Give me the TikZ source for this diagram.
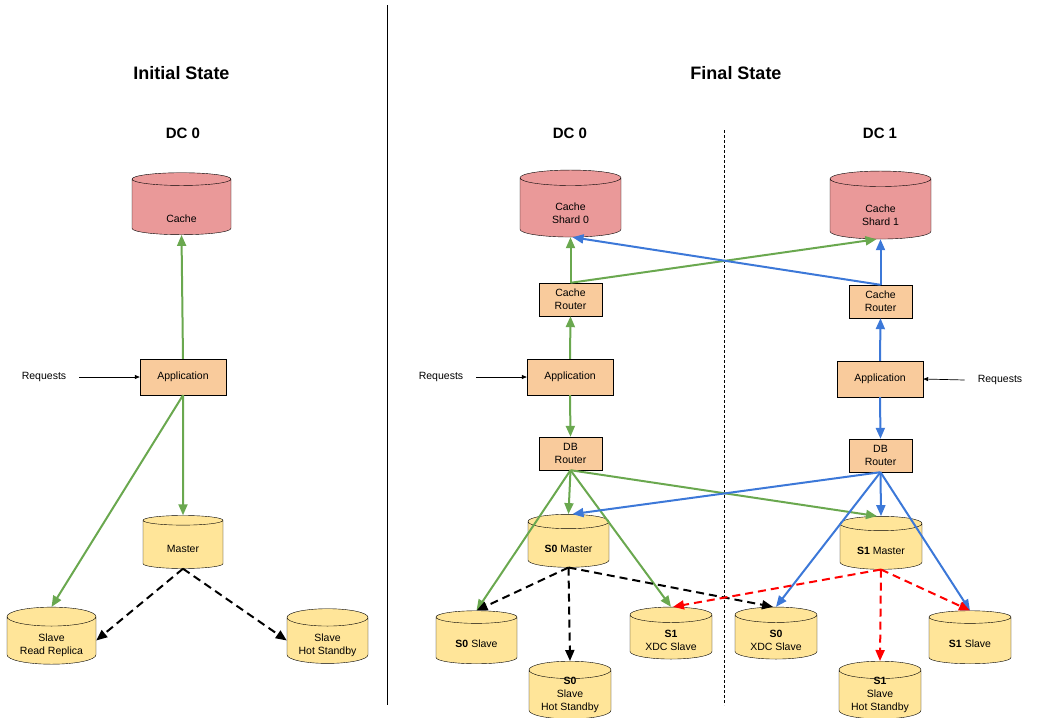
\documentclass[tikz,border=0pt]{standalone}
\usepackage{fontspec}
\setmainfont{Liberation Sans}
\usetikzlibrary{shapes.geometric,arrows.meta}

\definecolor{cachered}{HTML}{EA9999}
\definecolor{boxorange}{HTML}{F9CB9C}
\definecolor{dbyellow}{HTML}{FFE599}
\definecolor{dczero}{HTML}{6AA84F}
\definecolor{dcone}{HTML}{3C78D8}
\definecolor{replred}{HTML}{FF0000}

\tikzset{
  label font/.style={font=\fontsize{10.5}{13}\selectfont},
  box/.style={draw, fill=boxorange, label font, align=center, inner sep=0pt,
    minimum width=63pt, minimum height=33pt},
  appbox/.style={box, minimum width=86pt, minimum height=36pt},
  % text height sets how far the text sits below the middle of the drum
  db/.style={cylinder, shape border rotate=90, aspect=0.3, draw, fill=dbyellow,
    label font, align=center, inner sep=0pt, text height=15pt, text depth=0pt,
    minimum width=81pt, minimum height=53pt},
  twoline/.style={text height=28.5pt},
  threeline/.style={text height=31.5pt, text depth=-10pt},
  cachedb/.style={db, fill=cachered, aspect=0.42, minimum width=100pt, minimum height=65pt},
  reqtext/.style={label font, inner xsep=13pt},
  flow/.style={line width=2pt, -{Triangle[length=11pt,width=9pt]}},
  repl/.style={flow, dash pattern=on 8pt off 5pt},
  reqarrow/.style={line width=0.7pt, -{Triangle[length=5pt,width=4pt]}},
  title/.style={font=\bfseries\fontsize{18}{22}\selectfont},
  dclabel/.style={font=\bfseries\fontsize{15}{18}\selectfont},
}

\begin{document}
\begin{tikzpicture}[x=1pt, y=-1pt]
  % Define parameters
  \def\xl{183}   % column of initial state
  \def\xa{570}   % column of DC 0
  \def\xb{880}   % column of DC 1

  \useasboundingbox (0,0) rectangle (1045,718);

  % Separators
  \draw[line width=0.8pt] (387,5) -- (387,705);
  \draw[line width=0.5pt, dash pattern=on 3pt off 2pt] (724,130) -- (724,705);

  % Titles
  \node[title] at (181.5,73) {Initial State};
  \node[title] at (736,73) {Final State};
  \node[dclabel] at (\xl,133) {DC 0};
  \node[dclabel] at (\xa,133) {DC 0};
  \node[dclabel] at (\xb,133) {DC 1};

  % Initial state
  \node[cachedb, minimum width=99pt, minimum height=62pt, text height=31.5pt] (cacheL) at (181.5,207) {Cache};
  \node[appbox] (appL) at (\xl,377) {Application};
  \node[reqtext] (reqL) at (44,377) {Requests};
  \node[db, minimum width=80pt] (masterL) at (\xl,544.5) {Master};
  \node[db, twoline, minimum width=89pt] (replicaL) at (51.5,640.5) {Slave\\Read Replica};
  \node[db, twoline] (standbyL) at (327.5,640.5) {Slave\\Hot Standby};

  \draw[reqarrow] (reqL.east) -- (appL.west);
  \draw[flow, dczero] (appL.north) -- (cacheL.south);
  \draw[flow, dczero] (appL.south) -- (masterL.north);
  \draw[flow, dczero] (appL.south) -- (replicaL.north);
  \draw[repl] (masterL.south) -- (replicaL.east);
  \draw[repl] (masterL.south) -- (standbyL.west);

  % Final state, DC 0
  \node[cachedb, minimum width=101pt, minimum height=67pt, text height=32.5pt] (shard0) at (570.5,207.5) {Cache\\Shard 0};
  \node[box] (crouter0) at (570.5,299.5) {Cache\\Router};
  \node[appbox] (app0) at (\xa,377) {Application};
  \node[reqtext] (req0) at (441,377) {Requests};
  \node[box] (dbrouter0) at (570.5,453.5) {DB\\Router};
  \node[db] (master0) at (568.5,544.5) {\textbf{S0} Master};
  \node[db, text height=14.5pt] (slave0) at (476.5,640.5) {\textbf{S0} Slave};
  \node[db, threeline, minimum width=82pt, minimum height=52pt] (standby0) at (\xa,694.5) {\textbf{S0}\\Slave\\Hot Standby};
  \node[db, twoline, text height=27.5pt, minimum width=82pt, minimum height=52pt] (xdc1) at (671,637) {\textbf{S1}\\XDC Slave};

  % Final state, DC 1
  \node[cachedb, minimum width=101pt, minimum height=68pt, text height=33pt] (shard1) at (880.5,209) {Cache\\Shard 1};
  \node[box] (crouter1) at (880.5,301.5) {Cache\\Router};
  \node[appbox] (app1) at (\xb,379) {Application};
  \node[reqtext] (req1) at (1000,380) {Requests};
  \node[box] (dbrouter1) at (880.5,455.5) {DB\\Router};
  \node[db, minimum width=82pt] (master1) at (881,546.5) {\textbf{S1} Master};
  \node[db, twoline, text height=27.5pt, minimum width=82pt, minimum height=52pt] (xdc0) at (776,637) {\textbf{S0}\\XDC Slave};
  \node[db, text height=14.5pt, minimum width=82pt] (slave1) at (970,640.5) {\textbf{S1} Slave};
  \node[db, threeline, minimum width=82pt, minimum height=52pt] (standby1) at (\xb,694.5) {\textbf{S1}\\Slave\\Hot Standby};

  % Requests
  \draw[reqarrow] (req0.east) -- (app0.west);
  \draw[reqarrow] (req1.west) -- (app1.east);

  % DC 0 traffic
  \draw[flow, dczero] (app0.north) -- (crouter0.south);
  \draw[flow, dczero] (crouter0.north) -- (shard0.south);
  \draw[flow, dczero] (crouter0.north) -- ([xshift=-4pt]shard1.south);
  \draw[flow, dczero] (app0.south) -- (dbrouter0.north);
  \draw[flow, dczero] (dbrouter0.south) -- (master0.north);
  \draw[flow, dczero] (dbrouter0.south) -- (slave0.north);
  \draw[flow, dczero] (dbrouter0.south) -- (xdc1.north);
  \draw[flow, dczero] (dbrouter0.south) -- ([xshift=-4pt]master1.north);

  % DC 1 traffic
  \draw[flow, dcone] (app1.north) -- (crouter1.south);
  \draw[flow, dcone] (crouter1.north) -- (shard1.south);
  \draw[flow, dcone] (crouter1.north) -- ([xshift=2pt]shard0.south);
  \draw[flow, dcone] (app1.south) -- (dbrouter1.north);
  \draw[flow, dcone] (dbrouter1.south) -- (master1.north);
  \draw[flow, dcone] (dbrouter1.south) -- ([xshift=4pt]master0.north);
  \draw[flow, dcone] (dbrouter1.south) -- (xdc0.north);
  \draw[flow, dcone] (dbrouter1.south) -- (slave1.north);

  % Replication
  \draw[repl] (master0.south) -- (slave0.north);
  \draw[repl] (master0.south) -- (standby0.north);
  \draw[repl] (master0.south) -- ([xshift=-3pt]xdc0.north);
  \draw[repl, replred] (master1.south) -- ([xshift=2pt]xdc1.north);
  \draw[repl, replred] (master1.south) -- (standby1.north);
  \draw[repl, replred] (master1.south) -- (slave1.north);
\end{tikzpicture}
\end{document}
